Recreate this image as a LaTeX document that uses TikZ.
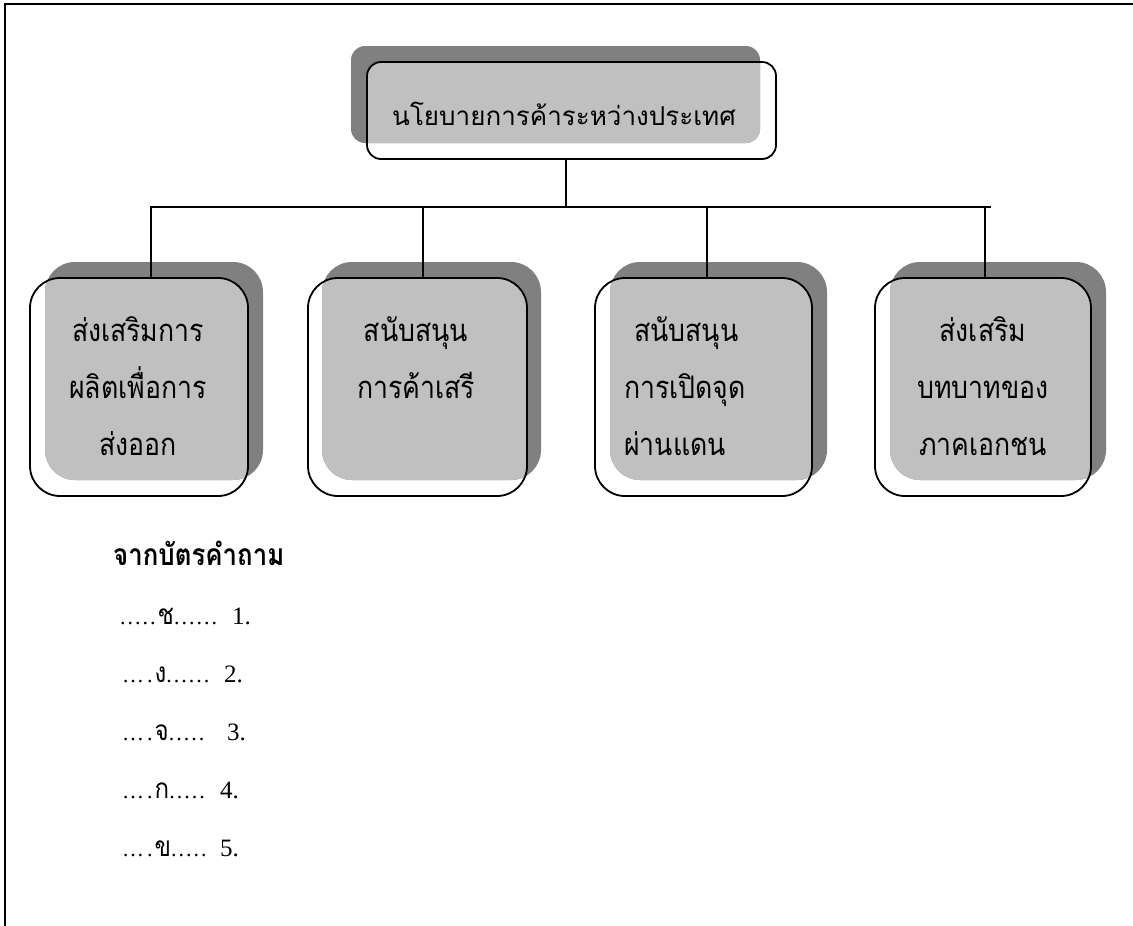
\documentclass[tikz,border=0pt]{standalone}
\usepackage{fontspec}
\setmainfont{Liberation Serif}
\newfontfamily\thai[Script=Thai]{Loma}
\newfontfamily\thaibox[Script=Thai,FakeStretch=0.86]{Loma}
\definecolor{shdark}{RGB}{128,128,128}
\definecolor{shlight}{RGB}{192,192,192}
\newcommand\tht[1]{{\thaibox\fontsize{28}{30}\selectfont #1}}
\newcommand\dt{.\kern2pt}
\newcommand\num[1]{{\fontsize{25}{30}\selectfont #1}}
% #1 name, #2 cx, #3 cy, #4 w, #5 h, #6 dx, #7 dy, #8 radius
\newcommand\mkshbox[8]{%
  \fill[shdark, rounded corners=#8pt] ({#2-#4/2+#6},{#3-#5/2+#7}) rectangle ++(#4,#5);
  \begin{scope}
    \clip[rounded corners=#8pt] ({#2-#4/2+#6},{#3-#5/2+#7}) rectangle ++(#4,#5);
    \fill[shlight, rounded corners=#8pt] ({#2-#4/2},{#3-#5/2}) rectangle ++(#4,#5);
  \end{scope}
  \node[boxline, rounded corners=#8pt, minimum width=#4pt, minimum height=#5pt] (#1) at (#2,#3) {};
}
\tikzset{
  boxline/.style={draw=black, line width=1.8pt, inner sep=0pt, outer sep=0pt},
  conn/.style={draw=black, line width=1.4pt},
  border/.style={draw=black, line width=2.6pt},
  boxtext/.style={inner sep=0pt, font=\thaibox\fontsize{31}{57}\selectfont},
}
\begin{document}
\begin{tikzpicture}[x=1pt,y=-1pt]
\useasboundingbox (0,0) rectangle (1133,926);
% page frame (top and left)
\coordinate (ftl) at (5,4);
\coordinate (ftr) at (1133,4);
\coordinate (fbl) at (5,926);
\draw[border] (ftr) -- (ftl) -- (fbl);

% boxes
\mkshbox{main}{571.5}{110.5}{409}{97}{-16}{-16}{14}
\mkshbox{b1}{139}{387}{218}{218}{15}{-16}{30}
\mkshbox{b2}{417.5}{387}{219}{218}{14}{-16}{30}
\mkshbox{b3}{703.5}{387}{217}{218}{15}{-16}{30}
\mkshbox{b4}{983}{387}{216}{218}{15}{-16}{30}

% texts
\node[anchor=base, inner sep=0pt, font=\thai\fontsize{26}{30}\selectfont] (maintext) at (564,125) {นโยบายการค้าระหว่างประเทศ};
\node[anchor=base, boxtext] (t1) at (138,341) {\parbox[t]{210pt}{\centering ส่งเสริมการ\\ผลิตเพื่อการ\\ส่งออก}};
\node[anchor=base, boxtext] (t2) at (416,341) {\parbox[t]{210pt}{\centering สนับสนุน\\การค้าเสรี}};
\node[anchor=base west, boxtext] (t3) at (624,341) {\parbox[t]{200pt}{\raggedright\hspace*{10pt}สนับสนุน\\การเปิดจุด\\ผ่านแดน}};
\node[anchor=base, boxtext] (t4) at (983,341) {\parbox[t]{210pt}{\centering ส่งเสริม\\บทบาทของ\\ภาคเอกชน}};

% connectors
\coordinate (busc) at (566,207);
\coordinate (busl) at (150,207);
\coordinate (busr) at (991,207);
\coordinate (d1) at (151,207);
\coordinate (d2) at (423,207);
\coordinate (d3) at (707,207);
\coordinate (d4) at (985,207);
\draw[conn] (main.south -| busc) -- (busc);
\draw[conn, line width=1.8pt] (busl) -- (busr);
\draw[conn] (d1) -- (b1.north -| d1);
\draw[conn] (d2) -- (b2.north -| d2);
\draw[conn] (d3) -- (b3.north -| d3);
\draw[conn] (d4) -- (b4.north -| d4);

% answer list
\node[anchor=base west, inner sep=0pt] (head) at (113,565) {\thaibox\bfseries\fontsize{30}{30}\selectfont จากบัตรคำถาม};
\node[anchor=base west, inner sep=0pt, font=\fontsize{22}{58}\selectfont] (list) at (120,624) {\parbox[t]{300pt}{\raggedright
\makebox[112pt][l]{\dt\dt\dt\dt\dt\tht{ช}\dt\dt\dt\dt\dt\dt}\num{1.}\\
\makebox[104pt][l]{\kern2pt…\kern3pt\dt\tht{ง}\dt\dt\dt\dt\dt\dt}\num{2.}\\
\makebox[107pt][l]{\kern2pt…\kern3pt\dt\tht{จ}\dt\dt\dt\dt\dt}\num{3.}\\
\makebox[100pt][l]{\kern2pt…\kern3pt\dt\tht{ก}\dt\dt\dt\dt\dt}\num{4.}\\
\makebox[100pt][l]{\kern2pt…\kern3pt\dt\tht{ข}\dt\dt\dt\dt\dt}\num{5.}}};
\end{tikzpicture}
\end{document}
